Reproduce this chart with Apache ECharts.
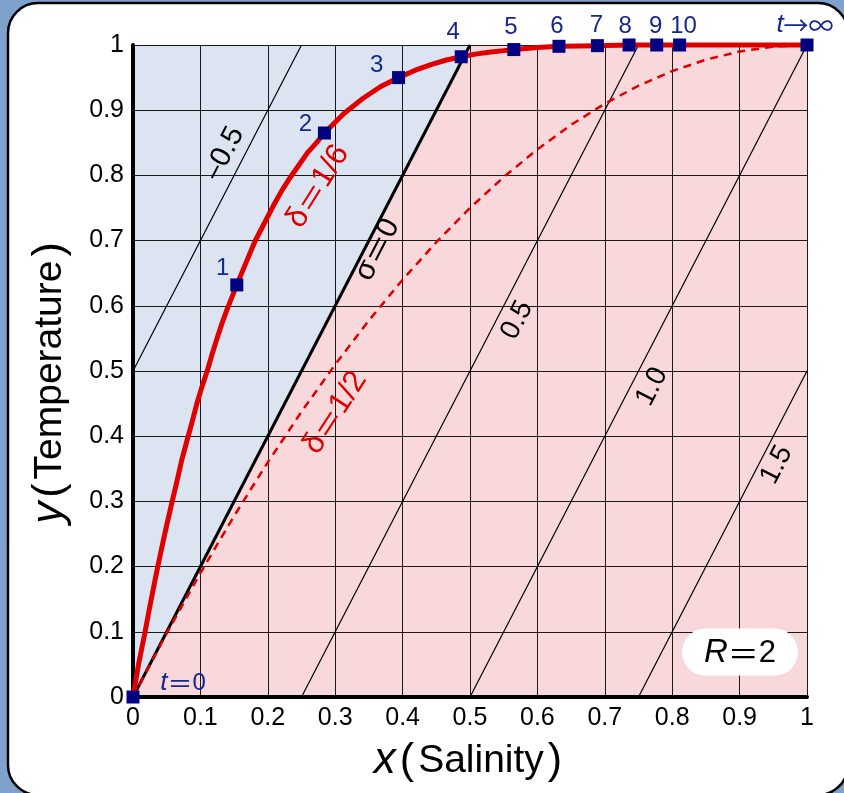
<!DOCTYPE html>
<html>
<head>
<meta charset="utf-8">
<script src="https://cdn.jsdelivr.net/npm/echarts@6/dist/echarts.min.js"></script>
<style>
html,body{margin:0;padding:0;background:#7fa2cc;}
#chart{width:844px;height:793px;}
</style>
</head>
<body>
<div id="chart"></div>
<script>
// ---- data ----
const xTickLabels = ['0','0.1','0.2','0.3','0.4','0.5','0.6','0.7','0.8','0.9','1'];
const yTickLabels = ['0','0.1','0.2','0.3','0.4','0.5','0.6','0.7','0.8','0.9','1'];

// isopycnal lines (sigma levels), endpoints in data units
const sigmaNeg05 = [[0, 0.5], [0.25, 1]];
const sigma0     = [[0, 0], [0.5, 1]];
const sigma05    = [[0.25, 0], [0.75, 1]];
const sigma10    = [[0.5, 0], [1, 1]];
const sigma15    = [[0.75, 0], [1, 0.5]];

// trajectory delta = 1/6 (solid red)
const curveDelta6 = [[0,0],[0.008,0.049],[0.017,0.095],[0.025,0.139],[0.033,0.181],[0.041,0.221],[0.049,0.259],
  [0.057,0.295],[0.065,0.330],[0.072,0.362],[0.080,0.393],[0.088,0.423],[0.095,0.451],[0.103,0.478],[0.111,0.503],
  [0.118,0.528],[0.125,0.551],[0.132,0.573],[0.139,0.593],[0.154,0.632],[0.168,0.667],[0.181,0.699],[0.195,0.727],
  [0.208,0.753],[0.221,0.777],[0.234,0.798],[0.247,0.817],[0.259,0.835],[0.272,0.850],[0.284,0.865],[0.313,0.895],
  [0.341,0.918],[0.367,0.936],[0.394,0.950],[0.418,0.961],[0.442,0.970],[0.465,0.977],[0.487,0.982],[0.508,0.986],
  [0.528,0.989],[0.547,0.991],[0.565,0.993],[0.600,0.996],[0.632,0.998],[0.662,0.9985],[0.689,0.999],
  [0.736,1.0],[0.777,1.0],[0.811,1.0],[0.865,1.0],[0.918,1.0],[1,1]];

// trajectory delta = 1/2 (dashed red)
const curveDelta2 = [[0,0],[0.025,0.049],[0.05,0.0975],[0.075,0.144],[0.1,0.19],[0.125,0.234],[0.15,0.2775],
  [0.175,0.319],[0.2,0.36],[0.25,0.4375],[0.3,0.51],[0.35,0.5775],[0.4,0.64],[0.45,0.6975],[0.5,0.75],
  [0.55,0.7975],[0.6,0.84],[0.65,0.8775],[0.7,0.91],[0.75,0.9375],[0.8,0.96],[0.85,0.9775],[0.9,0.99],
  [0.95,0.9975],[1,1]];

// time markers t = 0..10 and t -> infinity
const markerNames = ['t0','1','2','3','4','5','6','7','8','9','10','tinf'];
const markerPts = [[0,0],[0.154,0.632],[0.284,0.865],[0.394,0.950],[0.487,0.982],[0.565,0.993],[0.632,0.998],
  [0.689,0.999],[0.736,1.0],[0.777,1.0],[0.811,1.0],[1,1]];

// ---- styling / annotation layout (not data) ----
const FONT = "'Liberation Sans','Noto Sans CJK JP',Arial,sans-serif";
const CJK = "'Noto Sans CJK JP','Liberation Sans',sans-serif";
const NAVY = '#000080';
const LABNAVY = '#16288a';
const RED = '#e00000';
const markerLabelOffsets = [[50,-14],[-14,-17],[-19,-9],[-22,-12],[-8,-24],[-3,-22],[-2,-20],[-1,-20],[-4,-19],[-1,-19],[4,-19],[-2,-20]];
const markerLabelText = ['{i|t}{c|＝}0','1','2','3','4','5','6','7','8','9','10','{i|t}{c|→∞}'];

const annotations = [
  {text:'{c|−}0.5', at:[0.135,0.833], color:'#000', rot:62.7, size:29},
  {text:'σ{c|＝}0', at:[0.3625,0.686], color:'#000', rot:62.7, size:30},
  {text:'0.5', at:[0.570,0.578], color:'#000', rot:62.7, size:28},
  {text:'1.0', at:[0.770,0.476], color:'#000', rot:62.7, size:28},
  {text:'1.5', at:[0.955,0.356], color:'#000', rot:62.7, size:28},
  {text:'δ{c|＝}1/6', at:[0.2745,0.783], color:RED, rot:58, size:31},
  {text:'δ{c|＝}1/2', at:[0.300,0.436], color:RED, rot:57, size:31}
];
const rBox = {text:'{i|R}{c|＝}2', at:[0.9006,0.069]};

const chart = echarts.init(document.getElementById('chart'), null, {renderer:'canvas'});

function lineSeries(data, width, color, extra) {
  return Object.assign({
    type:'line', data:data, symbol:'none', clip:false, silent:true,
    lineStyle:{color:color, width:width}, z:3, animation:false
  }, extra||{});
}

const series = [];
// blue region (left of sigma=0)
series.push({
  type:'line', data:sigma0, symbol:'none', silent:true, animation:false,
  lineStyle:{width:0}, areaStyle:{color:'#dbe4f0', opacity:1, origin:'end'}, z:1
});
[sigmaNeg05, sigma05, sigma10, sigma15].forEach(d => series.push(lineSeries(d, 1.2, '#000')));
series.push(lineSeries(sigma0, 3, '#000'));
series.push(lineSeries(curveDelta2, 2.5, RED, {lineStyle:{color:RED, width:2.5, type:[8,6], join:'round'}}));
series.push(lineSeries(curveDelta6, 5, RED, {z:4, lineStyle:{color:RED, width:5, join:'round', cap:'round'}}));
series.push({
  type:'scatter', clip:false, silent:true, animation:false, z:5,
  symbol:'rect', symbolSize:13, itemStyle:{color:NAVY, opacity:1},
  data: markerPts.map((p,i) => ({
    value:p, name:markerNames[i],
    label:{show:true, position:'inside', offset:markerLabelOffsets[i], formatter:markerLabelText[i],
      color:LABNAVY, fontSize:24, fontFamily:FONT, opacity:1,
      rich:{i:{fontStyle:'italic', fontSize:26, color:LABNAVY, fontFamily:FONT},
            c:{fontSize:25, color:LABNAVY, fontFamily:CJK}}}
  }))
});
series.push({
  type:'scatter', clip:false, silent:true, animation:false, z:6,
  symbolSize:1, itemStyle:{color:'rgba(0,0,0,0)', opacity:1},
  data: annotations.map(a => ({
    value:a.at,
    label:{show:true, position:'inside', formatter:a.text, rotate:a.rot, color:a.color, opacity:1,
      fontSize:a.size, fontFamily:FONT,
      rich:{c:{fontSize:a.size, fontFamily:CJK, color:a.color}}}
  }))
});
series.push({
  type:'scatter', clip:false, silent:true, animation:false, z:6,
  symbolSize:1, itemStyle:{color:'rgba(0,0,0,0)', opacity:1},
  data:[{value:rBox.at, label:{show:true, position:'inside', formatter:rBox.text, color:'#000', opacity:1,
    fontSize:31, fontFamily:FONT, backgroundColor:'#fff', borderRadius:24, padding:[8,22,6,22],
    rich:{i:{fontStyle:'italic', fontSize:33, fontFamily:FONT, color:'#000'},
          c:{fontSize:31, fontFamily:CJK, color:'#000'}}}}]
});

const axisCommon = {
  type:'value', min:0, max:1, interval:0.1, z:2,
  axisLine:{show:true, onZero:false, lineStyle:{color:'#000', width:4}},
  axisTick:{show:false},
  splitLine:{show:true, lineStyle:{color:'#1a1a1a', width:1}},
  nameLocation:'middle'
};
const nameRich = {
  i:{fontStyle:'italic', fontSize:44, fontFamily:FONT, color:'#000'},
  p:{fontSize:43, fontFamily:FONT, color:'#000', padding:[0,4,0,4]},
  n:{fontSize:39, fontFamily:FONT, color:'#000'}
};

chart.setOption({
  backgroundColor:'#7fa2cc',
  animation:false,
  graphic:[{
    type:'rect', z:-10, silent:true,
    shape:{x:8, y:3, width:840, height:792, r:30},
    style:{fill:'#fff', stroke:'#000', lineWidth:2.5}
  }],
  grid:{left:133, right:37, top:45, bottom:96, show:true, backgroundColor:'#f8d8da', borderWidth:0},
  xAxis:Object.assign({}, axisCommon, {
    axisLabel:{color:'#000', fontSize:25, fontFamily:FONT, margin:9,
      formatter:(v)=> xTickLabels[Math.round(v*10)]},
    name:'{i|x}{p|(}{n|Salinity}{p|)}', nameGap:42,
    nameTextStyle:{rich:nameRich}
  }),
  yAxis:Object.assign({}, axisCommon, {
    axisLabel:{color:'#000', fontSize:25, fontFamily:FONT, margin:9,
      formatter:(v)=> yTickLabels[Math.round(v*10)]},
    name:'{i|y}{p|(}{n|Temperature}{p|)}', nameGap:61, nameRotate:90,
    nameTextStyle:{rich:nameRich, padding:[0,20,0,0]}
  }),
  series:series
});
</script>
</body>
</html>
